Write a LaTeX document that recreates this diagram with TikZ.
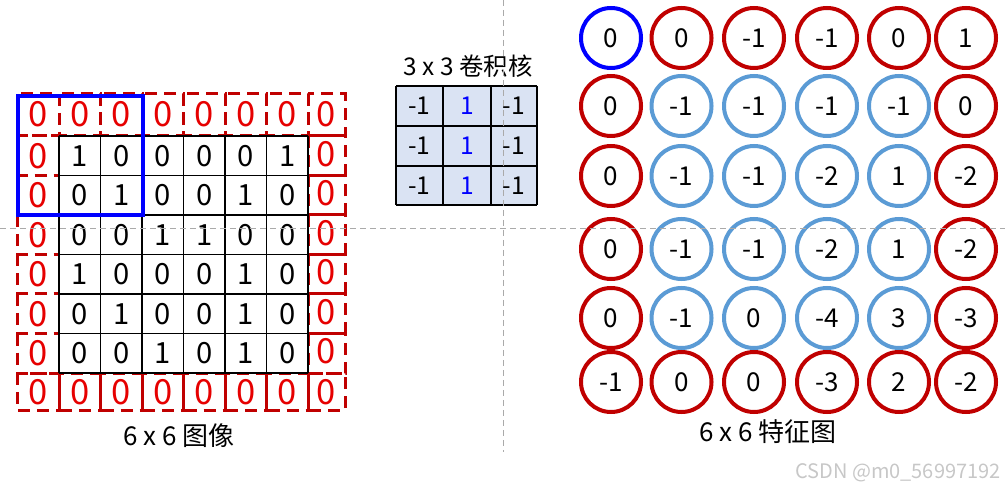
\documentclass[tikz,border=0pt]{standalone}
\usepackage{fontspec}
\setmainfont{Noto Sans CJK SC}
\usetikzlibrary{positioning}
\definecolor{padred}{HTML}{C00000}
\definecolor{zerored}{HTML}{E60000}
\definecolor{skyblue}{HTML}{5B9BD5}
\definecolor{kerfill}{HTML}{DAE3F3}
\definecolor{guide}{HTML}{AAAAAA}

\begin{document}
\begin{tikzpicture}[x=0.5pt, y=-0.5pt,
	padbox/.style  = {draw=padred, line width=1.5pt, dash pattern=on 6pt off 3.5pt},
	padzero/.style = {text=zerored, inner sep=0pt, font=\fontsize{17.3}{18}\selectfont},
	inval/.style   = {inner sep=0pt, font=\fontsize{14.6}{15}\selectfont},
	kerval/.style  = {inner sep=0pt, font=\fontsize{12.3}{13}\selectfont},
	gridline/.style = {draw=black, line width=0.6pt},
	fred/.style   = {circle, draw=padred,  line width=2pt, minimum size=30pt, inner sep=0pt, font=\fontsize{13}{14}\selectfont},
	fblue/.style  = {fred, draw=skyblue},
	fstart/.style = {fred, draw=blue},
	lbl/.style = {inner sep=0pt, font=\fontsize{13}{14}\selectfont}
	]
	\useasboundingbox (0,0) rectangle (1005,491);
	
	% === === Padding === ===
	\foreach \xa/\xb [count=\c] in {17/59,59/100.5,100.5/142,142/183.5,183.5/225,225/266.5,266.5/308,308/345}{
		\draw[padbox]	(\xa,94)	rectangle	(\xb,136);
		\draw[padbox]	(\xa,373)	rectangle	(\xb,410);
		\node[padzero]	(pt\c)	at	({(\xa+\xb)/2},114)	{0};
		\node[padzero]	(pb\c)	at	({(\xa+\xb)/2},392)	{0};
	}
	\foreach \ya/\yb [count=\r] in {136/175.5,175.5/215,215/254.5,254.5/294,294/333.5,333.5/373}{
		\draw[padbox]	(17,\ya)	rectangle	(59,\yb);
		\draw[padbox]	(308,\ya)	rectangle	(345,\yb);
		\node[padzero]	(pl\r)	at	(38.5,{(\ya+\yb)/2})	{0};
		\node[padzero]	(pr\r)	at	(326,{(\ya+\yb)/2-2})	{0};
	}
	
	% === === 6 x 6 image === ===
	\fill[white]	(59,136)	rectangle	(308,373);
	\foreach \i in {0,...,6}{
		\draw[gridline]	({59+41.5*\i},136)	--	({59+41.5*\i},373);
		\draw[gridline]	(59,{136+39.5*\i})	--	(308,{136+39.5*\i});
	}
	\foreach \row [count=\r] in {{1,0,0,0,0,1},{0,1,0,0,1,0},{0,0,1,1,0,0},{1,0,0,0,1,0},{0,1,0,0,1,0},{0,0,1,0,1,0}}{
		\foreach \val [count=\c] in \row{
			\node[inval]	(in\r\c)	at	({59+41.5*(\c-0.5)},{136+39.5*(\r-0.5)})	{\val};
		}
	}
	\draw[blue, line width=2pt]	(18,96)	rectangle	(143,215);
	\node[lbl]	(inlabel)	at	(179,436)	{6 x 6 图像};
	
	% === === Kernel === ===
	\fill[kerfill]	(396,86)	rectangle	(537,205);
	\foreach \xk in {396,443,491,537}	\draw[gridline]	(\xk,86)	--	(\xk,205);
	\foreach \yk in {86,126,166,205}	\draw[gridline]	(396,\yk)	--	(537,\yk);
	\foreach \r/\yk in {1/106,2/146,3/185.5}{
		\node[kerval]	(k\r1)	at	(419.5,\yk)	{-1};
		\node[kerval, text=blue]	(k\r2)	at	(467,\yk)	{1};
		\node[kerval]	(k\r3)	at	(514,\yk)	{-1};
	}
	\node[inner sep=0pt, font=\fontsize{12.2}{13}\selectfont]	(klabel)	at	(468,66)	{3 x 3 卷积核};
	
	% === === Feature map === ===
	\def\fx{{611,681.5,754,827,899,966}}
	\def\fy{{38,106,176,249,318,382}}
	\foreach \row [count=\r] in {{fstart/0,fred/0,fred/-1,fred/-1,fred/0,fred/1},{fred/0,fblue/-1,fblue/-1,fblue/-1,fblue/-1,fred/0},{fred/0,fblue/-1,fblue/-1,fblue/-2,fblue/1,fred/-2},{fred/0,fblue/-1,fblue/-1,fblue/-2,fblue/1,fred/-2},{fred/0,fblue/-1,fblue/0,fblue/-4,fblue/3,fred/-3},{fred/-1,fred/0,fred/0,fred/-3,fred/2,fred/-2}}{
		\foreach \s/\val [count=\c] in \row{
			\pgfmathsetmacro\cx{\fx[\c-1]}
			\pgfmathsetmacro\cy{\fy[\r-1]}
			\node[\s]	(f\r\c)	at	(\cx,\cy)	{\val};
		}
	}
	\node[lbl]	(flabel)	at	(768,432)	{6 x 6 特征图};
	\node[inner sep=0pt, text=black!22, font=\fontsize{10}{11}\selectfont]	(mark)	at	(898,473)	{CSDN @m0\_56997192};
	
	% === === Guides === ===
	\draw[guide, line width=0.5pt, dash pattern=on 3pt off 2pt]	(0,229)	--	(1005,229);
	\draw[guide, line width=0.5pt, dash pattern=on 3pt off 2pt]	(503,0)	--	(503,452);
	
\end{tikzpicture}
\end{document}
